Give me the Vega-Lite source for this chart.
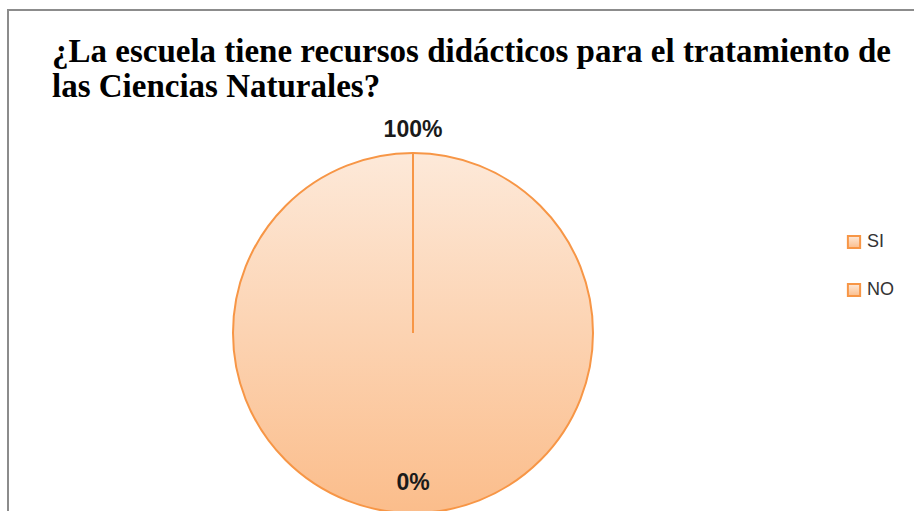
{
  "$schema": "https://vega.github.io/schema/vega-lite/v6.json",
  "width": 910,
  "height": 505,
  "autosize": {"type": "none"},
  "padding": {"left": 8, "top": 10, "right": 0, "bottom": 0},
  "background": "white",
  "view": {"stroke": "#8c8c8c", "strokeWidth": 2, "fill": "white"},
  "title": {
    "text": ["¿La escuela tiene recursos didácticos para el tratamiento de", "las Ciencias Naturales?"],
    "anchor": "start",
    "frame": "group",
    "dx": 44,
    "dy": 94,
    "offset": 0,
    "font": "Liberation Serif",
    "fontSize": 33,
    "fontWeight": "bold",
    "color": "black",
    "lineHeight": 35
  },
  "data": {
    "values": [
      {"respuesta": "SI", "porcentaje": 1, "orden": 1},
      {"respuesta": "NO", "porcentaje": 0, "orden": 2}
    ]
  },
  "layer": [
    {
      "mark": {
        "type": "arc",
        "radius": 180,
        "x": 405,
        "y": 323,
        "strokeWidth": 2,
        "fill": {"gradient": "linear", "x1": 0, "y1": 0, "x2": 0, "y2": 1, "stops": [{"offset": 0, "color": "#fde9d9"}, {"offset": 1, "color": "#fbbd8b"}]}
      },
      "encoding": {
        "theta": {"field": "porcentaje", "type": "quantitative", "stack": true},
        "order": {"field": "orden", "type": "quantitative"},
        "stroke": {
          "field": "respuesta",
          "type": "nominal",
          "sort": ["SI", "NO"],
          "scale": {"domain": ["SI", "NO"], "range": ["#f79646", "#f79646"]},
          "legend": {
            "orient": "none",
            "legendX": 837,
            "legendY": 223,
            "title": null,
            "symbolType": "square",
            "symbolSize": 150,
            "symbolFillColor": "#fcd5b4",
            "symbolStrokeWidth": 2,
            "labelFont": "Liberation Sans",
            "labelFontSize": 18,
            "labelColor": "#333333",
            "rowPadding": 26,
            "labelOffset": 4
          }
        }
      }
    },
    {
      "mark": {"type": "text", "x": 405, "y": 323, "font": "Liberation Sans", "fontWeight": "bold", "fontSize": 23, "color": "#1a1a1a"},
      "encoding": {
        "theta": {"field": "porcentaje", "type": "quantitative", "stack": false, "scale": {"domain": [0, 1], "range": [3.14159265, 6.28318531]}},
        "radius": {"field": "porcentaje", "type": "quantitative", "scale": {"type": "linear", "zero": false, "domain": [0, 1], "range": [150, 203]}},
        "text": {"field": "porcentaje", "type": "quantitative", "format": ".0%"}
      }
    }
  ],
  "resolve": {"scale": {"theta": "independent", "radius": "independent"}}
}
